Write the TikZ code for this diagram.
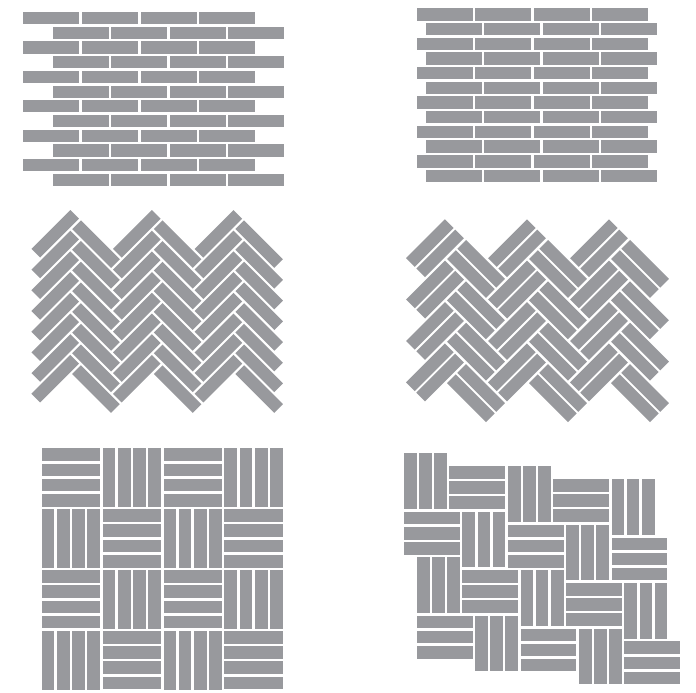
\documentclass[tikz,border=0pt]{standalone}
\usepackage{tikz}

\definecolor{tilegray}{RGB}{152,153,157}

\newcommand\slab[3]{\fill[tile, rotate around={#3:(#1,#2)}] ({#1-27.5},{#2-6.15}) rectangle ({#1+27.5},{#2+6.15});}
\newcommand\vtriple[2]{\foreach \m in {0,1,2} \fill[tile] ({#1+15.1*\m},{#2}) rectangle ++(12.7,55.7);}
\newcommand\htriple[2]{\foreach \m in {0,1,2} \fill[tile] ({#1},{#2+15.1*\m}) rectangle ++(55.7,12.7);}

\begin{document}
\begin{tikzpicture}[
  x=1pt, y=-1pt,
  tile/.style={fill=tilegray}
]

\fill[white] (0,0) rectangle (696,693);

% running bond, half offset
\foreach \r in {0,...,11} {
  \pgfmathsetmacro\xs{mod(\r,2)==0 ? 23.3 : 52.6}
  \foreach \c in {0,...,3}
    \fill[tile] ({\xs+58.6*\c},{12+14.7*\r}) rectangle ++(56,12.2);
}

% running bond, small offset
\foreach \r in {0,...,11} {
  \pgfmathsetmacro\xs{mod(\r,2)==0 ? 416.7 : 426}
  \foreach \c in {0,...,3}
    \fill[tile] ({\xs+58.4*\c},{8.3+14.67*\r}) rectangle ++(56,12.5);
}

% herringbone
\foreach \j in {0,...,5} {
  \pgfmathsetmacro\cx{55.2+40.8*\j}
  \pgfmathsetmacro\ang{mod(\j,2)==0 ? 45 : -45}
  \foreach \k in {0,...,7} {
    \pgfmathsetmacro\cy{233.8+10.35*mod(\j,2)+20.7*\k}
    \slab{\cx}{\cy}{\ang}
  }
}

% double herringbone
\foreach \j in {0,...,5} {
  \pgfmathsetmacro\ux{435+41*\j}
  \pgfmathsetmacro\ang{mod(\j,2)==0 ? 45 : -45}
  \pgfmathsetmacro\sg{mod(\j,2)==0 ? 1 : -1}
  \foreach \k in {0,...,3} {
    \pgfmathsetmacro\uy{248.2+20.7*mod(\j,2)+41.4*\k}
    \slab{\ux-5.13}{\uy-5.13*\sg}{\ang}
    \slab{\ux+5.13}{\uy+5.13*\sg}{\ang}
  }
}

% basketweave
\foreach \i in {0,...,3}
  \foreach \j in {0,...,3} {
    \pgfmathtruncatemacro\t{\i+\j}
    \ifodd\t
      \foreach \m in {0,...,3}
        \fill[tile] ({41.7+60.9*\i+15.2*\m},{448.3+60.9*\j}) rectangle ++(12.7,58.7);
    \else
      \foreach \m in {0,...,3}
        \fill[tile] ({41.7+60.9*\i},{448.3+60.9*\j+15.2*\m}) rectangle ++(58.7,12.7);
    \fi
  }

% stepped basketweave
\foreach \s in {0,1} {
  \foreach \i in {0,1,2} {
    \vtriple{404+103.8*\i+12.8*\s}{453.3+12.9*\i+103.9*\s}
    \htriple{404+103.8*\i+12.8*\s}{511.7+12.9*\i+103.9*\s}
  }
  \foreach \i in {0,1} {
    \htriple{449.4+103.8*\i+12.8*\s}{466.2+12.9*\i+103.9*\s}
    \vtriple{462.4+103.8*\i+12.8*\s}{511.7+12.9*\i+103.9*\s}
  }
}

\end{tikzpicture}
\end{document}
